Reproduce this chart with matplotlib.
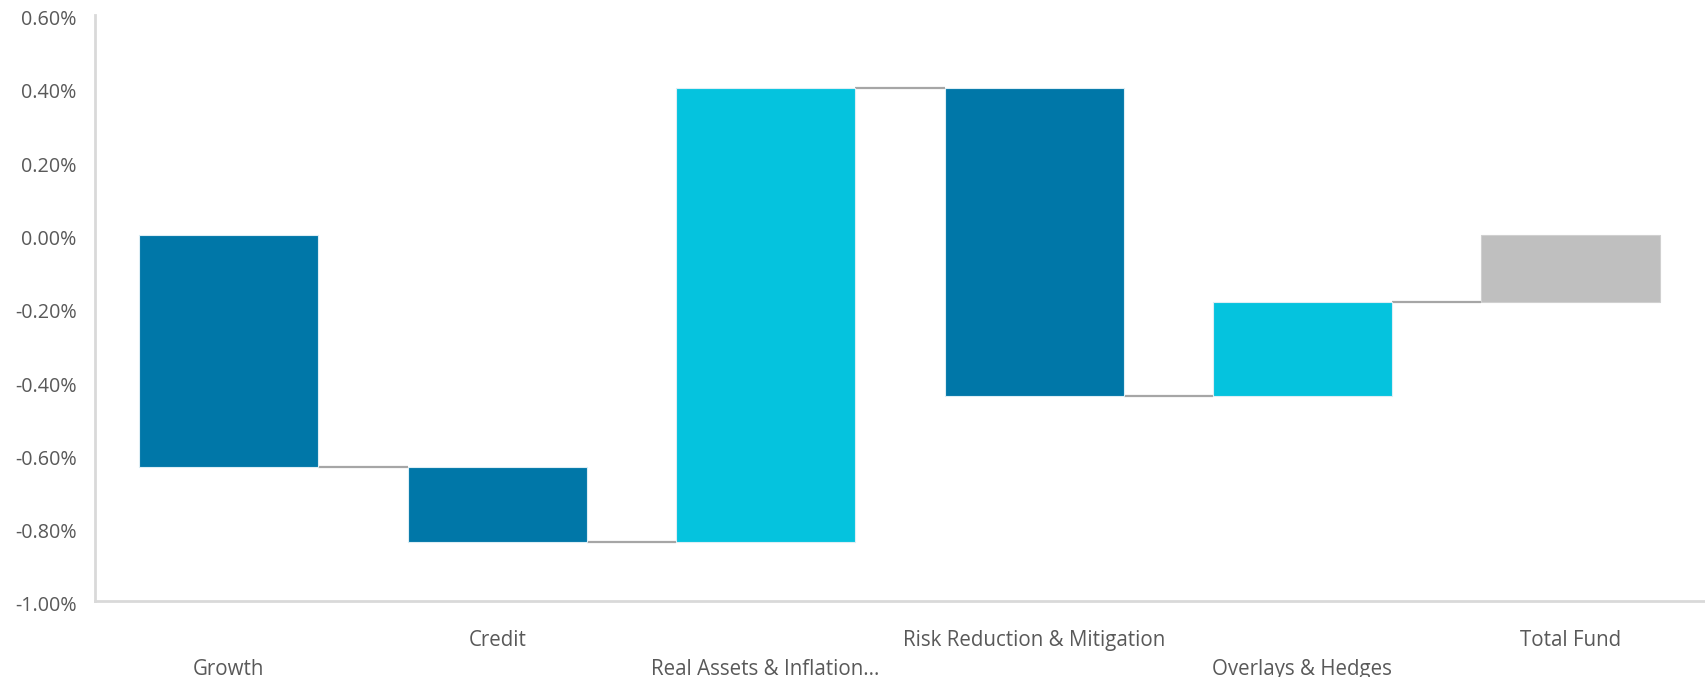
import matplotlib
matplotlib.use("Agg")
import matplotlib.pyplot as plt
from matplotlib.ticker import FuncFormatter
import matplotlib.transforms as mtransforms

categories = ["Growth", "Credit", "Real Assets & Inflation...", "Risk Reduction & Mitigation",
              "Overlays & Hedges", "Total Fund"]
changes = [-0.635, -0.205, 1.24, -0.84, 0.255]
total = -0.185
label_low = [True, False, True, False, True, False]

bar_colors = ["#0077A8", "#0077A8", "#05C3DE", "#0077A8", "#05C3DE", "#BFBFBF"]

plt.rcParams['font.family'] = ['Open Sans', 'DejaVu Sans']

fig = plt.figure(figsize=(17.05, 6.77), dpi=100)
ax = fig.add_axes([0.0555, 0.1123, 0.9445, 0.8661])

width = 0.667
cum = 0.0
levels = []
for i, ch in enumerate(changes):
    start = cum
    cum = cum + ch
    ax.bar(i, ch, bottom=start, width=width, color=bar_colors[i],
           edgecolor="#DDEEF5", linewidth=0.8, zorder=2)
    levels.append(cum)
n = len(changes)
ax.bar(n, total, bottom=0, width=width, color=bar_colors[n],
       edgecolor="#D0D0D0", linewidth=0.8, zorder=2)

for i, lv in enumerate(levels):
    ax.plot([i + width / 2, i + 1 - width / 2], [lv, lv], color="#A6A6A6",
            lw=1.6, zorder=1, solid_capstyle="butt")

ax.set_xlim(-0.5, n + 0.5)
ax.set_ylim(-1.0, 0.6)
ax.set_yticks([-1.0, -0.8, -0.6, -0.4, -0.2, 0.0, 0.2, 0.4, 0.6])
ax.yaxis.set_major_formatter(FuncFormatter(lambda v, p: f"{v:.2f}%"))
ax.tick_params(axis='y', length=0, pad=13, labelsize=14.2, labelcolor="#595959")
ax.set_xticks([])
shift = mtransforms.ScaledTranslation(0, -3 / 100, fig.dpi_scale_trans)
for lab in ax.get_yticklabels():
    lab.set_transform(lab.get_transform() + shift)

for s in ["top", "right"]:
    ax.spines[s].set_visible(False)
for s in ["left", "bottom"]:
    ax.spines[s].set_color("#D9D9D9")
    ax.spines[s].set_linewidth(2)

trans = mtransforms.blended_transform_factory(ax.transData, ax.transAxes)
for i, (lab, low) in enumerate(zip(categories, label_low)):
    ax.text(i, -0.1163 if low else -0.0670, lab, transform=trans, ha="center", va="center",
            fontsize=14.8, color="#595959")

fig.savefig("out.png", dpi=100)
